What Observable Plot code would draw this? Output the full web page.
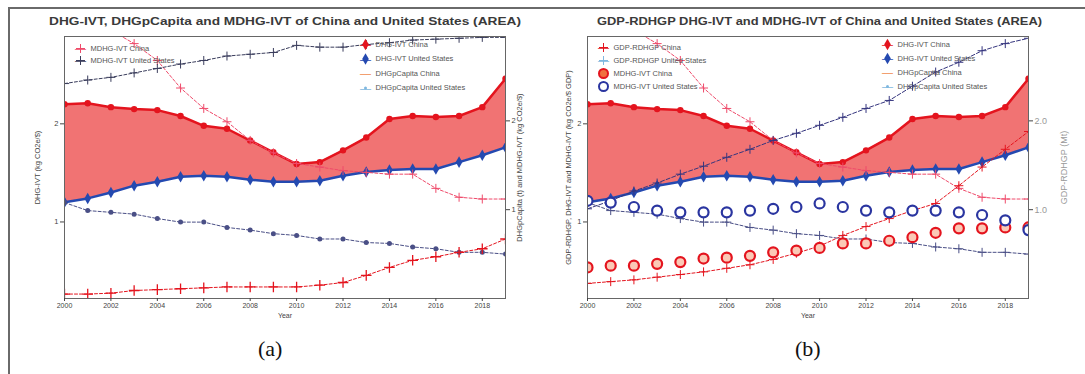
<!DOCTYPE html>
<html><head><meta charset="utf-8">
<script src="https://cdn.jsdelivr.net/npm/d3@7"></script>
<script src="https://cdn.jsdelivr.net/npm/@observablehq/plot@0.6"></script>
<style>
body{margin:0;width:1085px;height:374px;position:relative;overflow:hidden;background:#fff;font-family:Arial,"Liberation Sans",sans-serif}
#frame{position:absolute;left:8px;top:7px;width:1100px;height:400px;border-top:2px solid #6a6a6a;border-left:2px solid #6a6a6a}
.panel{position:absolute;top:28px;height:294px}
.title{position:absolute;font-size:10.5px;font-weight:bold;color:#3a3a3a;white-space:nowrap;transform-origin:left center;top:15px}
.cap{position:absolute;font-family:"Liberation Serif","Times New Roman",serif;font-size:22px;color:#111;top:336px}
</style></head>
<body>
<div id="frame"></div>
<div id="pa" class="panel" style="left:14px;width:523px"></div>
<div id="pb" class="panel" style="left:537px;width:548px"></div>
<div class="title" id="ta" style="left:49px">DHG-IVT, DHGpCapita and MDHG-IVT of China and United States (AREA)</div>
<div class="title" id="tb" style="left:597px">GDP-RDHGP DHG-IVT and MDHG-IVT of China and United States (AREA)</div>
<div class="cap" style="left:258px">(a)</div>
<div class="cap" style="left:795px">(b)</div>
<script>
// ---- data ----
const years = [2000,2001,2002,2003,2004,2005,2006,2007,2008,2009,2010,2011,2012,2013,2014,2015,2016,2017,2018,2019];
const xTicks = [2000,2002,2004,2006,2008,2010,2012,2014,2016,2018];
const leftTicks = [1, 2];
const rightTicks = [1, 2];
const leftDomain = [0.22, 2.89];
const rightDomain = [0, 2.95];

// left axis (DHG-IVT)
const dhgIvtChina = [2.20,2.21,2.17,2.15,2.14,2.08,1.98,1.95,1.83,1.71,1.59,1.61,1.73,1.86,2.05,2.08,2.07,2.08,2.17,2.46];
const dhgIvtUS    = [1.20,1.24,1.30,1.37,1.41,1.46,1.47,1.46,1.43,1.41,1.41,1.42,1.47,1.51,1.53,1.54,1.54,1.61,1.68,1.76];
// right axis series
const mdhgChina   = [3.24,3.13,3.02,2.87,2.68,2.37,2.14,1.99,1.78,1.64,1.52,1.48,1.44,1.42,1.40,1.40,1.24,1.14,1.12,1.12];
const mdhgUS      = [2.42,2.46,2.49,2.54,2.59,2.64,2.68,2.73,2.75,2.77,2.85,2.83,2.83,2.86,2.88,2.91,2.92,2.93,2.94,2.94];
const pcapUS      = [1.08,0.99,0.97,0.95,0.90,0.86,0.86,0.80,0.77,0.73,0.71,0.67,0.67,0.63,0.62,0.58,0.56,0.52,0.52,0.50];
const pcapChina   = [0.05,0.05,0.06,0.09,0.10,0.11,0.12,0.13,0.13,0.13,0.13,0.15,0.18,0.26,0.35,0.43,0.47,0.52,0.56,0.67];
const gdpChina    = [0.17,0.19,0.21,0.24,0.27,0.30,0.34,0.38,0.44,0.51,0.59,0.71,0.81,0.90,0.99,1.07,1.27,1.48,1.68,1.88];
const gdpUS       = [1.01,1.10,1.21,1.30,1.40,1.49,1.59,1.68,1.78,1.86,1.95,2.04,2.14,2.23,2.39,2.55,2.66,2.79,2.87,2.93];
const circChina   = [0.35,0.37,0.37,0.39,0.41,0.45,0.46,0.48,0.52,0.54,0.57,0.62,0.62,0.65,0.69,0.74,0.79,0.79,0.80,0.80];
const circUS      = [1.10,1.08,1.03,0.99,0.97,0.97,0.97,0.99,1.01,1.03,1.07,1.03,0.99,0.97,0.99,0.99,0.97,0.94,0.88,0.77];

const legendA1 = ["MDHG-IVT China", "MDHG-IVT United States"];
const legendA2 = ["DHG-IVT China", "DHG-IVT United States", "DHGpCapita China", "DHGpCapita United States"];
const legendB1 = ["GDP-RDHGP China", "GDP-RDHGP United States", "MDHG-IVT China", "MDHG-IVT United States"];
const legendB2 = ["DHG-IVT China", "DHG-IVT United States", "DHGpCapita China", "DHGpCapita United States"];

const rows = years.map((year, i) => ({
  year, dhgIvtChina: dhgIvtChina[i], dhgIvtUS: dhgIvtUS[i], mdhgChina: mdhgChina[i], mdhgUS: mdhgUS[i],
  pcapUS: pcapUS[i], pcapChina: pcapChina[i], gdpChina: gdpChina[i], gdpUS: gdpUS[i],
  circChina: circChina[i], circUS: circUS[i]
}));

const toL = d3.scaleLinear().domain(rightDomain).range(leftDomain);

const C = {
  red: "#e4141e", blue: "#2449b0", area: "#ee5a5a",
  pink: "#ef4a6a", dark: "#3a3d5c", slate: "#4a4f86", navy: "#35357e",
  orange: "#f08a50", light: "#7fb8e0"
};

function series(key, o) {
  const y = o.right ? d => toL(d[key]) : key;
  const m = [];
  if (o.line !== false) m.push(Plot.line(rows, {x: "year", y, stroke: o.color, strokeWidth: o.w || 1, strokeDasharray: o.dash, clip: true}));
  if (o.symbol) m.push(Plot.dot(rows, {x: "year", y, symbol: o.symbol, r: o.r || 3, fill: o.fill || "none", stroke: o.stroke || "none", strokeWidth: o.sw || 1, clip: true}));
  return m;
}

function legend(anchor, dx, dy0, step, labels, styles) {
  const m = [];
  labels.forEach((lab, i) => {
    const s = styles[i], dy = dy0 + i * step;
    if (s.line) m.push(Plot.text(["\u2014"], {frameAnchor: anchor, dx, dy, text: d => d, fill: s.line, fontSize: 11, textAnchor: "middle", lineAnchor: "middle"}));
    if (s.symbol) m.push(Plot.dot([0], {frameAnchor: anchor, dx, dy, symbol: s.symbol, r: s.r || 3, fill: s.fill || "none", stroke: s.stroke || "none", strokeWidth: s.sw || 1}));
    m.push(Plot.text([lab], {frameAnchor: anchor, dx: dx + 10, dy, text: d => d, textAnchor: "start", lineAnchor: "middle", fill: "#555", fontSize: 7.5}));
  });
  return m;
}

function base(o) {
  return {
    width: o.width, height: 294,
    marginLeft: 50, marginRight: o.mr, marginTop: 8, marginBottom: 24,
    style: {fontSize: "7px", fontFamily: "Arial, 'Liberation Sans', sans-serif", color: "#444", background: "transparent"},
    x: {domain: [2000, 2019]},
    y: {domain: leftDomain}
  };
}

const bandMarks = [
  Plot.areaY(rows, {x: "year", y1: "dhgIvtUS", y2: "dhgIvtChina", fill: C.area, fillOpacity: 0.85}),
  ...series("dhgIvtChina", {color: C.red, w: 2.5, symbol: "circle", r: 3.2, fill: C.red}),
  ...series("dhgIvtUS", {color: C.blue, w: 2.5, symbol: "diamond", r: 3.5, fill: C.blue})
];

function axes(o) {
  return [
    Plot.frame({stroke: "#666", strokeWidth: 1}),
    Plot.axisX(xTicks, {tickFormat: d => String(d), tickSize: 3, tickPadding: 2, label: "Year", labelAnchor: "center", labelArrow: "none", labelOffset: 19, fontSize: 7}),
    Plot.axisY(leftTicks, {anchor: "left", tickSize: 4, tickPadding: 2, tickFormat: d => String(d), label: o.leftLabel, labelAnchor: "center", labelArrow: "none", labelOffset: o.lo, fontSize: 7.5}),
    Plot.axisY(rightTicks.map(d => toL(d)), {anchor: "right", tickSize: 4, tickPadding: 2, tickFormat: d => o.rfmt(toL.invert(d)), label: o.rightLabel, labelAnchor: "center", labelArrow: "none", labelOffset: o.ro, fontSize: o.rfs || 7.5, fill: o.rfill || "#444"})
  ];
}

const chartA = Plot.plot({
  ...base({width: 523, mr: 32}),
  marks: [
    ...bandMarks,
    ...series("mdhgChina", {right: true, color: C.pink, dash: "3,2", symbol: "plus", r: 3, stroke: C.pink, sw: 1}),
    ...series("mdhgUS", {right: true, color: C.dark, dash: "3,2", symbol: "plus", r: 3, stroke: C.dark, sw: 1}),
    ...series("pcapUS", {right: true, color: C.slate, dash: "3,2", symbol: "circle", r: 2.5, fill: C.slate}),
    ...series("pcapChina", {right: true, color: C.red, dash: "3,2", symbol: "plus", r: 3.5, stroke: C.red, sw: 1.3}),
    ...axes({leftLabel: "DHG-IVT (kg CO2e/$)", lo: 30, rightLabel: "DHGpCapita (t) and MDHG-IVT (kg CO2e/$)", ro: 16, rfmt: v => String(Math.round(v))}),
    ...legend("top-left", 16, 12, 12, legendA1, [
      {line: C.pink, symbol: "plus", stroke: C.pink},
      {line: C.dark, symbol: "plus", stroke: C.dark}
    ]),
    ...legend("top-right", -140, 8, 14.5, legendA2, [
      {line: C.red, symbol: "diamond", fill: C.red, r: 3.5},
      {line: C.blue, symbol: "diamond", fill: C.blue, r: 3.5},
      {line: C.orange},
      {line: C.light, symbol: "circle", r: 1.5, fill: C.light}
    ])
  ]
});
document.getElementById("pa").append(chartA);

const chartB = Plot.plot({
  ...base({width: 548, mr: 57}),
  marks: [
    ...bandMarks,
    ...series("mdhgChina", {right: true, color: C.pink, dash: "3,2", symbol: "plus", r: 3, stroke: C.pink, sw: 1}),
    ...series("pcapUS", {right: true, color: C.slate, dash: "3,2", symbol: "plus", r: 3, stroke: C.slate, sw: 1}),
    ...series("gdpUS", {right: true, color: C.navy, dash: "4,2", symbol: "plus", r: 3, stroke: C.navy, sw: 1}),
    ...series("gdpChina", {right: true, color: C.red, dash: "3,2", symbol: "plus", r: 3, stroke: C.red, sw: 1}),
    ...series("circChina", {right: true, line: false, symbol: "circle", r: 5, fill: "#fbc9b6", stroke: C.red, sw: 2.2}),
    ...series("circUS", {right: true, line: false, symbol: "circle", r: 5, fill: "#ffffff", stroke: "#2a35a0", sw: 2.2}),
    ...axes({leftLabel: "GDP-RDHGP, DHG-IVT and MDHG-IVT (kg CO2e/$ GDP)", lo: 22, rightLabel: "GDP-RDHGP (Mt)", ro: 38, rfmt: v => v.toFixed(1), rfs: 9, rfill: "#999"}),
    ...legend("top-left", 16, 11, 13, legendB1, [
      {line: C.red, symbol: "plus", stroke: C.red},
      {line: C.light, symbol: "plus", stroke: C.light},
      {symbol: "circle", r: 4.5, fill: "#f07040", stroke: C.red, sw: 2},
      {symbol: "circle", r: 4.5, fill: "#fff", stroke: "#2a35a0", sw: 2}
    ]),
    ...legend("top-right", -141, 8, 14, legendB2, [
      {line: C.red, symbol: "diamond", fill: C.red, r: 3.5},
      {line: C.blue, symbol: "diamond", fill: C.blue, r: 3.5},
      {line: C.orange},
      {line: C.light, symbol: "circle", r: 1.5, fill: C.light}
    ])
  ]
});
document.getElementById("pb").append(chartB);

function fit(id, w) {
  const el = document.getElementById(id);
  const cur = el.getBoundingClientRect().width;
  el.style.transform = `scaleX(${w / cur})`;
}
fit("ta", 472);
fit("tb", 445);
</script>
</body></html>
